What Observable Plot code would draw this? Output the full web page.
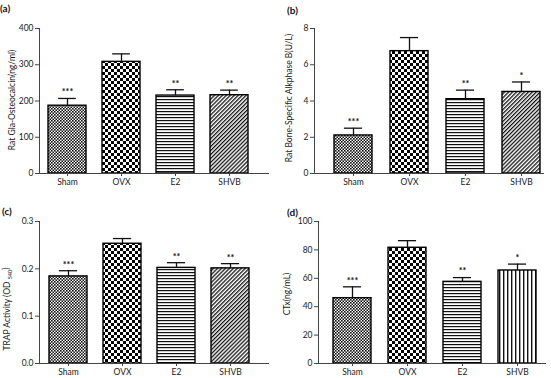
<!DOCTYPE html>
<html><head><meta charset="utf-8">
<script src="https://cdn.jsdelivr.net/npm/d3@7"></script>
<script src="https://cdn.jsdelivr.net/npm/@observablehq/plot@0.6"></script>
<style>
body{margin:0;background:#fff;font-family:Lato,"Open Sans",sans-serif;}
#wrap{position:relative;width:551px;height:378px;overflow:hidden;background:#fff;}
.panel{position:absolute;}
.panel svg{overflow:visible;}
.plab{position:absolute;font-weight:bold;font-size:10px;color:#111;line-height:1;}
</style></head><body><div id="wrap"></div>
<script>
const groups = ["Sham", "OVX", "E2", "SHVB"];

const glaMean = [187, 308, 215, 216];
const glaErr = [207, 330, 231, 230];
const glaStars = ["***", "", "**", "**"];
const glaTicks = [0, 100, 200, 300, 400];

const balpMean = [2.1, 6.75, 4.1, 4.5];
const balpErr = [2.5, 7.5, 4.6, 5.05];
const balpStars = ["***", "", "**", "*"];
const balpTicks = [0, 2, 4, 6, 8];

const trapMean = [0.184, 0.253, 0.202, 0.201];
const trapErr = [0.196, 0.264, 0.213, 0.211];
const trapStars = ["***", "", "**", "**"];
const trapTicks = [0, 0.1, 0.2, 0.3];

const ctxMean = [46, 81.5, 57.5, 65.5];
const ctxErr = [54, 86.5, 60.5, 70];
const ctxStars = ["***", "", "**", "*"];
const ctxTicks = [0, 20, 40, 60, 80, 100];

const panels = [
  {id:"a", label:"(a)", ylabel:"Rat Gla-Osteocalcin(ng/ml)", mean:glaMean, err:glaErr, stars:glaStars, ticks:glaTicks, fmt:d3.format("d"),
   pats:["fine","check","hline","diag"],
   left:0, top:0, w:275, h:190, ml:39, mr:7, mt:28, mb:17, xr:[46,250], pad:0.29, lx:12, ly:100, labX:0, labY:3},
  {id:"b", label:"(b)", ylabel:"Rat Bone-Specific Alkphase B(U/L)", mean:balpMean, err:balpErr, stars:balpStars, ticks:balpTicks, fmt:d3.format("d"),
   pats:["fine","check","hline","diag"],
   left:275, top:0, w:276, h:190, ml:39, mr:8, mt:28, mb:17, xr:[57,266], pad:0.33, lx:14.5, ly:98, labX:287, labY:5},
  {id:"c", label:"(c)", ylabel:null, mean:trapMean, err:trapErr, stars:trapStars, ticks:trapTicks, fmt:d3.format(".1f"),
   pats:["fine","check","hline","diag"],
   left:0, top:188, w:275, h:190, ml:39, mr:7, mt:33, mb:15, xr:[48,250], pad:0.305, lx:7, ly:121, labX:2, labY:206},
  {id:"d", label:"(d)", ylabel:"CTx(ng/mL)", mean:ctxMean, err:ctxErr, stars:ctxStars, ticks:ctxTicks, fmt:d3.format("d"),
   pats:["fine","check","hline","vline"],
   left:275, top:188, w:276, h:190, ml:43, mr:6, mt:33, mb:15, xr:[57,261], pad:0.31, lx:12.5, ly:106, labX:287, labY:207}
];

function addPatterns(svg, id) {
  const defs = d3.select(svg).insert("defs", ":first-child");
  const mk = (name, w, h, tf) => {
    const p = defs.append("pattern").attr("id", id + "-" + name)
      .attr("patternUnits", "userSpaceOnUse").attr("width", w).attr("height", h);
    if (tf) p.attr("patternTransform", tf);
    p.append("rect").attr("width", w).attr("height", h).attr("fill", "#fff");
    return p;
  };
  let p = mk("fine", 3, 3);
  p.append("rect").attr("width", 1.6).attr("height", 1.6).attr("fill", "#111");
  p.append("rect").attr("x", 1.5).attr("y", 1.5).attr("width", 1.6).attr("height", 1.6).attr("fill", "#111");
  p = mk("check", 6, 6);
  p.append("rect").attr("width", 3).attr("height", 3).attr("fill", "#000");
  p.append("rect").attr("x", 3).attr("y", 3).attr("width", 3).attr("height", 3).attr("fill", "#000");
  p = mk("hline", 3, 3);
  p.append("rect").attr("width", 3).attr("height", 1.2).attr("fill", "#111");
  p = mk("diag", 2.8, 2.8, "rotate(45)");
  p.append("rect").attr("width", 1.3).attr("height", 2.8).attr("fill", "#111");
  p = mk("vline", 4, 4);
  p.append("rect").attr("width", 1.4).attr("height", 4).attr("fill", "#111");
}

const wrap = document.getElementById("wrap");
for (const cfg of panels) {
  const data = groups.map((g, i) => ({g, v: cfg.mean[i], e: cfg.err[i], s: cfg.stars[i], pat: cfg.pats[i]}));
  const step = (cfg.xr[1] - cfg.xr[0]) / (4 - cfg.pad);
  const bw = step * (1 - cfg.pad);
  const cap = bw * 0.26;
  const yMax = cfg.ticks[cfg.ticks.length - 1];
  const plot = Plot.plot({
    width: cfg.w, height: cfg.h,
    marginLeft: cfg.ml, marginRight: cfg.mr, marginTop: cfg.mt, marginBottom: cfg.mb,
    style: {fontFamily: "Lato, 'Open Sans', sans-serif", fontSize: "8.5px", color: "#1a1a1a", background: "transparent"},
    x: {domain: groups, range: cfg.xr, paddingInner: cfg.pad, paddingOuter: 0, label: null},
    y: {domain: [0, yMax], label: null},
    marks: [
      ...data.map(d => Plot.barY([d], {x: "g", y: "v", fill: `url(#${cfg.id}-${d.pat})`, stroke: "#000", strokeWidth: 1.4})),
      Plot.ruleX(data, {x: "g", y1: "v", y2: "e", stroke: "#111", strokeWidth: 1.3}),
      Plot.tickY(data, {x: "g", y: "e", stroke: "#111", strokeWidth: 1.3, insetLeft: cap, insetRight: cap}),
      Plot.text(data, {x: "g", y: "e", text: "s", dy: -6, fontSize: 9, fontWeight: "bold", fill: "#111", lineAnchor: "middle"}),
      Plot.axisY({ticks: cfg.ticks, tickSize: 4, tickPadding: 2, tickFormat: cfg.fmt, stroke: "#444", label: null}),
      Plot.axisX({tickSize: 3, tickPadding: 2, stroke: "#444", label: null}),
      Plot.frame({anchor: "left", stroke: "#444"}),
      Plot.frame({anchor: "bottom", stroke: "#444"})
    ]
  });
  addPatterns(plot, cfg.id);
  const t = d3.select(plot).append("text")
    .attr("transform", `translate(${cfg.lx},${cfg.ly}) rotate(-90)`)
    .attr("text-anchor", "middle").attr("dy", "0.35em")
    .attr("font-size", 8.5).attr("fill", "#1a1a1a");
  if (cfg.ylabel) t.text(cfg.ylabel);
  else {
    t.append("tspan").text("TRAP Activity (OD ");
    t.append("tspan").attr("font-size", 5.5).attr("dy", "0.45em").text("540");
    t.append("tspan").attr("dy", "-0.45em").text(")");
  }
  const div = document.createElement("div");
  div.className = "panel";
  div.style.left = cfg.left + "px"; div.style.top = cfg.top + "px";
  div.appendChild(plot);
  wrap.appendChild(div);
  const lab = document.createElement("div");
  lab.className = "plab"; lab.textContent = cfg.label;
  lab.style.left = cfg.labX + "px"; lab.style.top = cfg.labY + "px";
  wrap.appendChild(lab);
}
</script></body></html>
